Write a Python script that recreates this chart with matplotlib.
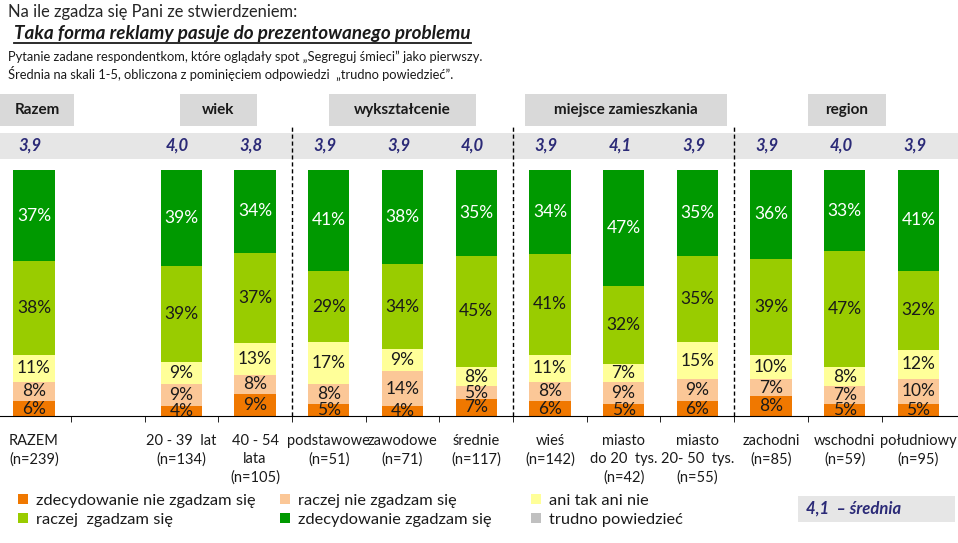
import numpy as np
import matplotlib
matplotlib.use('Agg')
import matplotlib.pyplot as plt
from matplotlib.patches import Rectangle
import matplotlib.transforms as mtransforms

plt.rcParams['font.family'] = ['Lato', 'DejaVu Sans']

# dane z wykresu
kategorie = ['RAZEM\n(n=239)', '20 - 39  lat\n(n=134)', '40 - 54\nlata\n(n=105)',
             'podstawowe\n(n=51)', 'zawodowe\n(n=71)', 'średnie\n(n=117)',
             'wieś\n(n=142)', 'miasto\ndo 20  tys.\n(n=42)', 'miasto\n20- 50  tys.\n(n=55)',
             'zachodni\n(n=85)', 'wschodni\n(n=59)', 'południowy\n(n=95)']
zdec_nie = [6, 4, 9, 5, 4, 7, 6, 5, 6, 8, 5, 5]
raczej_nie = [8, 9, 8, 8, 14, 5, 8, 9, 9, 7, 7, 10]
ani_ani = [11, 9, 13, 17, 9, 8, 11, 7, 15, 10, 8, 12]
raczej_tak = [38, 39, 37, 29, 34, 45, 41, 32, 35, 39, 47, 32]
zdec_tak = [37, 39, 34, 41, 38, 35, 34, 47, 35, 36, 33, 41]
trudno = [0, 0, 0, 0, 0, 0, 0, 0, 0, 0, 0, 0]
srednie = [3.9, 4.0, 3.8, 3.9, 3.9, 4.0, 3.9, 4.1, 3.9, 3.9, 4.0, 3.9]
srednia_ogolna = 4.1

serie = ['zdecydowanie nie zgadzam się', 'raczej nie zgadzam się', 'ani tak ani nie',
         'raczej  zgadzam się', 'zdecydowanie zgadzam się', 'trudno powiedzieć']
kolory = ['#F07800', '#FBC797', '#FFFF99', '#99CC00', '#009900', '#C0C0C0']
grupy = ['Razem', 'wiek', 'wykształcenie', 'miejsce zamieszkania', 'region']

navy = '#2B2A77'
txt = '#1A1A1A'

fig = plt.figure(figsize=(9.58, 5.43), dpi=100)
W, H = 958, 543
ax = fig.add_axes([0, (H - 416) / H, 1, 246 / H])

x = np.array([0] + list(range(2, 13)))  # pusty slot po RAZEM
dane = np.array([zdec_nie, raczej_nie, ani_ani, raczej_tak, zdec_tak, trudno], dtype=float)
dane_proc = dane / dane.sum(axis=0) * 100

bottom = np.zeros(len(x))
bars = []
for i in range(len(serie)):
    b = ax.bar(x, dane_proc[i], 0.56, bottom=bottom, color=kolory[i], label=serie[i], zorder=2)
    bars.append(b)
    for j in range(len(x)):
        if dane[i, j] > 0:
            ax.text(x[j], bottom[j] + dane_proc[i, j] / 2, f'{int(dane[i, j])}%',
                    ha='center', va='center', fontsize=12.5,
                    color='white' if i == 4 else txt, zorder=3)
    bottom += dane_proc[i]

ax.set_xlim(-0.461, 12.537)
ax.set_ylim(0, 100)
for s in ['top', 'left', 'right']:
    ax.spines[s].set_visible(False)
ax.spines['bottom'].set_color('black')
ax.set_yticks([])
ax.set_xticks(x, kategorie)
ax.tick_params(axis='x', which='major', length=0, pad=13, labelsize=10.5, labelcolor=txt)
for lbl in ax.get_xticklabels():
    lbl.set_linespacing(1.35)
ax.set_xticks(np.arange(0.5, 12.5, 1), minor=True)
ax.tick_params(axis='x', which='minor', length=4, direction='out', color='black')

# linie przerywane między grupami
ax.vlines([3.5, 6.5, 9.5], 0, 118.3, colors='black', linestyles=(0, (3, 2)), lw=1, clip_on=False, zorder=1)

# pasek ze średnimi
blend = mtransforms.blended_transform_factory(ax.transAxes, ax.transData)
ax.add_patch(Rectangle((0, 104.5), 1, 10.5, transform=blend, facecolor='#E6E6E6',
                       edgecolor='none', clip_on=False, zorder=0))
for j in range(len(x)):
    ax.text(x[j] - 0.05, 109.8, f'{srednie[j]:.1f}'.replace('.', ','), ha='center', va='center',
            fontsize=12, fontweight='bold', style='italic', color=navy, clip_on=False)

# nagłówki grup
srodki = [0.04, 2.5, 5.0, 8.03, 11.03]
szer = [1.0, 1.05, 2.0, 2.74, 1.05]
for g, c, w in zip(grupy, srodki, szer):
    ax.add_patch(Rectangle((c - w / 2, 117.9), w, 13, facecolor='#D9D9D9', edgecolor='none',
                           clip_on=False, zorder=0))
    ax.text(c, 124.4, g, ha='center', va='center', fontsize=11, fontweight='bold',
            color=txt, clip_on=False)

# tytuły
fig.text(8 / W, 1 - 12 / H, 'Na ile zgadza się Pani ze stwierdzeniem:', ha='left', va='center',
         fontsize=11.9, color='#262626')
t2 = fig.text(14 / W, 1 - 33 / H, 'Taka forma reklamy pasuje do prezentowanego problemu',
              ha='left', va='center', fontsize=13.6, fontweight='bold', style='italic', color=txt)
fig.text(8 / W, 1 - 57 / H,
         'Pytanie zadane respondentkom, które oglądały spot „Segreguj śmieci” jako pierwszy.',
         ha='left', va='center', fontsize=9.3, color=txt)
fig.text(8 / W, 1 - 73 / H,
         'Średnia na skali 1-5, obliczona z pominięciem odpowiedzi  „trudno powiedzieć”.',
         ha='left', va='center', fontsize=9.3, color=txt)

# podkreślenie tytułu
fig.canvas.draw()
bb = t2.get_window_extent().transformed(fig.transFigure.inverted())
fig.add_artist(plt.Line2D([bb.x0, bb.x1], [1 - 43 / H, 1 - 43 / H], color=txt, lw=1.3,
                          transform=fig.transFigure))

# legenda
kolejnosc = [[0, 3], [1, 4], [2, 5]]
pozycje = [18, 280, 531]
for k, px in zip(kolejnosc, pozycje):
    fig.legend([bars[i] for i in k], [serie[i] for i in k], loc='upper left',
               bbox_to_anchor=(px / W, 1 - 494 / H), frameon=False, fontsize=11.8,
               handlelength=0.6, handleheight=0.6, handletextpad=0.5, borderpad=0,
               borderaxespad=0, labelspacing=0.3, labelcolor=txt)

# ramka ze średnią ogólną
fig.add_artist(Rectangle((798 / W, 1 - 522 / H), 157 / W, 26 / H, transform=fig.transFigure,
                         facecolor='#E6E6E6', edgecolor='none'))
fig.text(806 / W, 1 - 509 / H, f'{srednia_ogolna:.1f}'.replace('.', ',') + '  – średnia',
         ha='left', va='center', fontsize=12, fontweight='bold', style='italic', color=navy)

fig.savefig('out.png', dpi=100)
